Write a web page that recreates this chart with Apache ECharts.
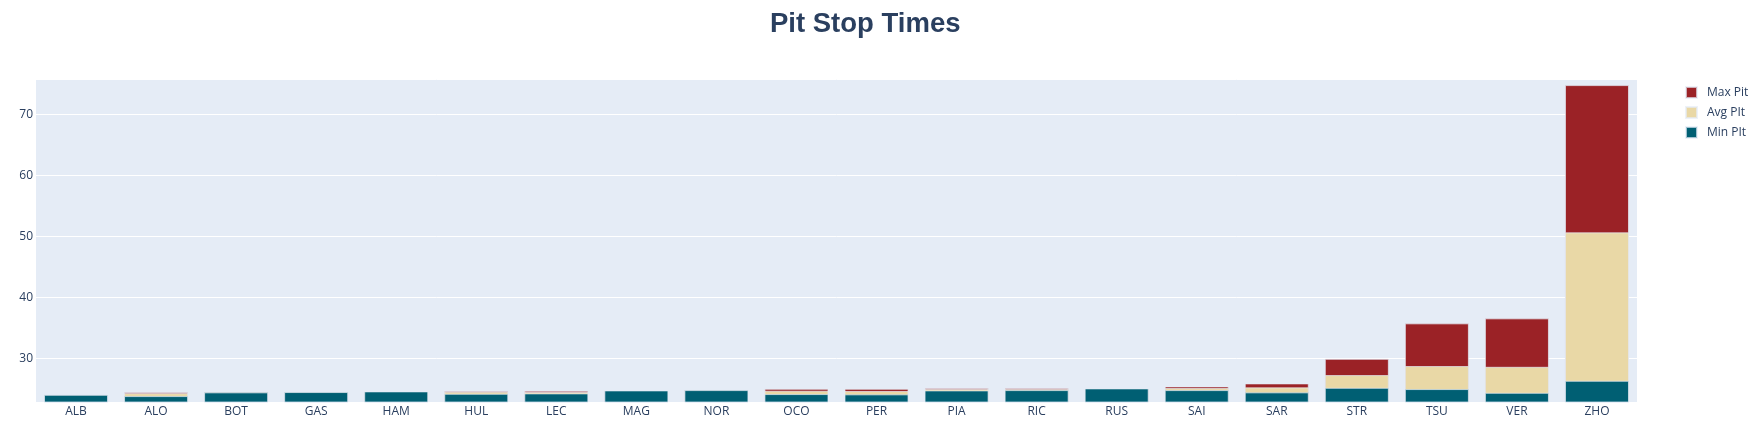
<!DOCTYPE html>
<html>
<head>
<meta charset="utf-8">
<script src="https://cdn.jsdelivr.net/npm/echarts@6/dist/echarts.min.js"></script>
<style>
  html, body { margin: 0; padding: 0; background: #fff; }
  #chart { width: 1755px; height: 421px; }
</style>
</head>
<body>
<div id="chart"></div>
<script>
// driver codes on the x axis
const drivers = ["ALB", "ALO", "BOT", "GAS", "HAM", "HUL", "LEC", "MAG", "NOR", "OCO",
  "PER", "PIA", "RIC", "RUS", "SAI", "SAR", "STR", "TSU", "VER", "ZHO"];

// pit stop times (s)
const maxPit = [24.03, 24.43, 24.43, 24.48, 24.59, 24.64, 24.69, 24.75, 24.8, 25.02,
  25.02, 25.13, 25.13, 25.08, 25.41, 25.9, 29.93, 35.74, 36.56, 74.8];
const avgPit = [24.03, 24.3, 24.43, 24.48, 24.59, 24.53, 24.5, 24.75, 24.8, 24.7,
  24.66, 25.0, 25.0, 25.08, 25.13, 25.25, 27.26, 28.74, 28.62, 50.66];
const minPit = [24.03, 23.82, 24.43, 24.48, 24.59, 24.2, 24.26, 24.75, 24.8, 24.15,
  24.1, 24.75, 24.8, 25.08, 24.8, 24.43, 25.18, 24.97, 24.36, 26.33];

const textColor = "#2a3f5f";
const barBorder = { borderColor: "rgba(229,236,246,0.7)", borderWidth: 1 };

const chart = echarts.init(document.getElementById("chart"), null, { renderer: "canvas" });

// overlay the three bars on each other, max at the back
const makeSeries = (name, data, color) => ({
  name: name,
  type: "bar",
  data: data,
  barWidth: "80%",
  barGap: "-100%",
  itemStyle: Object.assign({ color: color }, barBorder),
  emphasis: { disabled: true },
});

chart.setOption({
  animation: false,
  textStyle: { fontFamily: "Open Sans" },
  title: {
    text: "Pit Stop Times",
    left: 765,
    top: 5,
    textStyle: { fontFamily: "Liberation Sans", fontWeight: "bold", fontSize: 27.5, color: textColor },
  },
  legend: {
    orient: "vertical",
    left: 1680,
    top: 81,
    itemWidth: 11,
    itemHeight: 11,
    itemGap: 7,
    icon: "rect",
    data: ["Max Pit", "Avg PIt", "Min PIt"],
    textStyle: { fontFamily: "Open Sans", fontSize: 12, color: textColor, padding: [0, 0, 0, 5] },
  },
  grid: {
    left: 36,
    right: 118,
    top: 79,
    bottom: 19,
    show: true,
    backgroundColor: "#E5ECF6",
    borderWidth: 0,
  },
  xAxis: {
    type: "category",
    data: drivers,
    axisLine: { show: false },
    axisTick: { show: false },
    axisLabel: { color: textColor, fontSize: 12, margin: 4 },
  },
  yAxis: {
    type: "value",
    min: 22.85,
    max: 75.8,
    minInterval: 10,
    maxInterval: 10,
    axisLine: { show: false },
    axisTick: { show: false },
    axisLabel: { color: textColor, fontSize: 12, margin: 3, showMinLabel: false, showMaxLabel: false },
    splitLine: { lineStyle: { color: "#ffffff", width: 1 } },
  },
  series: [
    makeSeries("Max Pit", maxPit, "#9B2226"),
    makeSeries("Avg PIt", avgPit, "#E9D8A6"),
    makeSeries("Min PIt", minPit, "#005F73"),
  ],
});
</script>
</body>
</html>
